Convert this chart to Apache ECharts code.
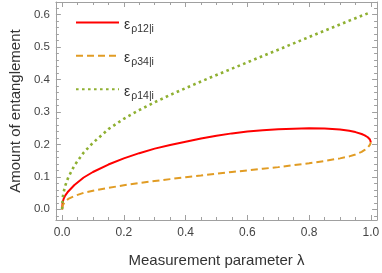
<!DOCTYPE html>
<html>
<head>
<meta charset="utf-8">
<script src="https://cdn.jsdelivr.net/npm/echarts@6/dist/echarts.min.js"></script>
<style>html,body{margin:0;padding:0;background:#fff}#c{width:382px;height:273px}</style>
</head>
<body>
<div id="c"></div>
<script>
var lambdas = [0,0.002,0.005,0.01,0.02,0.04,0.07,0.1,0.15,0.2,0.25,0.3,0.35,0.4,0.45,0.5,0.55,0.6,0.65,0.7,0.75,0.8,0.85,0.9,0.93,0.95,0.97,0.98,0.99,0.997,1.0];
var rho12 = [0,0.022,0.032,0.042,0.055,0.075,0.098,0.115,0.138,0.157,0.173,0.187,0.198,0.208,0.218,0.227,0.234,0.2395,0.2435,0.2465,0.2485,0.2495,0.249,0.246,0.242,0.238,0.232,0.228,0.222,0.215,0.206];
var rho34 = [0,0.012,0.018,0.024,0.032,0.041,0.051,0.057,0.066,0.074,0.081,0.087,0.093,0.099,0.104,0.110,0.115,0.120,0.125,0.130,0.136,0.142,0.149,0.157,0.163,0.169,0.177,0.183,0.191,0.199,0.206];
var rho14 = [0,0.035,0.052,0.072,0.098,0.135,0.175,0.205,0.247,0.279,0.306,0.330,0.3525,0.3735,0.394,0.414,0.4335,0.453,0.4725,0.492,0.5115,0.531,0.5505,0.570,0.5815,0.589,0.5965,0.600,0.604,0.6065,0.6075];
var seriesNames = ['rho12','rho34','rho14'];
var seriesSub = ['ρ12|i','ρ34|i','ρ14|i'];
var xMajorTicks = [0,0.2,0.4,0.6,0.8,1.0];
var xMinorTicks = [0.05,0.1,0.15,0.25,0.3,0.35,0.45,0.5,0.55,0.65,0.7,0.75,0.85,0.9,0.95];
var yMajorTicks = [0,0.1,0.2,0.3,0.4,0.5,0.6];
var yMinorTicks = [-0.02,0.02,0.04,0.06,0.08,0.12,0.14,0.16,0.18,0.22,0.24,0.26,0.28,0.32,0.34,0.36,0.38,0.42,0.44,0.46,0.48,0.52,0.54,0.56,0.58,0.62];
var xLabel = 'Measurement parameter λ';
var yLabel = 'Amount of entanglement';

function pairs(ys){ return lambdas.map(function(x,i){return [x, ys[i]];}); }
var FONT = 'Liberation Sans, Arial, sans-serif';
var frame = '#a0a0a0';
var XMIN=-0.02, XMAX=1.02, YMIN=-0.033, YMAX=0.639;

function xAx(pos, vals, len, labels, name, showLine){
  return {type:'value', position:pos, min:XMIN, max:XMAX,
    name: name||'', nameLocation:'middle', nameGap:33,
    nameTextStyle:{fontFamily:FONT, fontSize:15, color:'#333'},
    axisLine:{show:showLine, onZero:false, lineStyle:{color:frame, width:1}},
    axisTick:{show:true, inside:true, length:len, customValues:vals, lineStyle:{color:frame}},
    axisLabel:{show:labels, customValues:vals, fontFamily:FONT, fontSize:12, color:'#444', margin:7, formatter:function(v){return v.toFixed(1);}},
    splitLine:{show:false}};
}
function yAx(pos, vals, len, labels, name, showLine){
  return {type:'value', position:pos, min:YMIN, max:YMAX,
    name: name||'', nameLocation:'middle', nameGap:21,
    nameTextStyle:{fontFamily:FONT, fontSize:15, color:'#333'},
    axisLine:{show:showLine, onZero:false, lineStyle:{color:frame, width:1}},
    axisTick:{show:true, inside:true, length:len, customValues:vals, lineStyle:{color:frame}},
    axisLabel:{show:labels, customValues:vals, fontFamily:FONT, fontSize:11.5, color:'#444', margin:6, formatter:function(v){return v.toFixed(1);}},
    splitLine:{show:false}};
}

var chart = echarts.init(document.getElementById('c'), null, {renderer:'canvas'});
var lineStyles = [
  {color:'#ff0000', width:2, type:'solid'},
  {color:'#e19c24', width:2, type:[7,4], cap:'butt'},
  {color:'#8fb032', width:2.6, type:[2.6,3.4], cap:'butt'}
];
var datas = [rho12, rho34, rho14];
chart.setOption({
  animation:false,
  grid:{left:44, right:2, top:2, bottom:47},
  legend:{
    orient:'vertical', left:70, top:11, itemWidth:43, itemHeight:16, itemGap:15,
    data: seriesNames,
    itemStyle:{color:'rgba(0,0,0,0)', borderWidth:0, opacity:0},
    formatter:function(n){ var i=seriesNames.indexOf(n); return '{e|ε}{s|'+seriesSub[i]+'}'; },
    textStyle:{fontFamily:FONT, color:'#333', rich:{
      e:{fontSize:14, fontFamily:FONT, color:'#333', padding:[5,0,0,0]},
      s:{fontSize:10.5, fontFamily:FONT, color:'#333', padding:[13,0,0,1]}
    }}
  },
  xAxis:[ xAx('bottom', xMajorTicks, 5, true, xLabel, true),
          xAx('bottom', xMinorTicks, 3, false, '', false),
          xAx('top', xMajorTicks, 5, false, '', true),
          xAx('top', xMinorTicks, 3, false, '', false)],
  yAxis:[ yAx('left', yMajorTicks, 5, true, yLabel, true),
          yAx('left', yMinorTicks, 3, false, '', false),
          yAx('right', yMajorTicks, 5, false, '', true),
          yAx('right', yMinorTicks, 3, false, '', false)],
  series: seriesNames.map(function(n,i){
    return {name:n, type:'line', xAxisIndex:0, yAxisIndex:0, data:pairs(datas[i]),
      symbol:'none', smooth:false, lineStyle:lineStyles[i], itemStyle:{color:lineStyles[i].color}, z:2+i};
  })
});
</script>
</body>
</html>
